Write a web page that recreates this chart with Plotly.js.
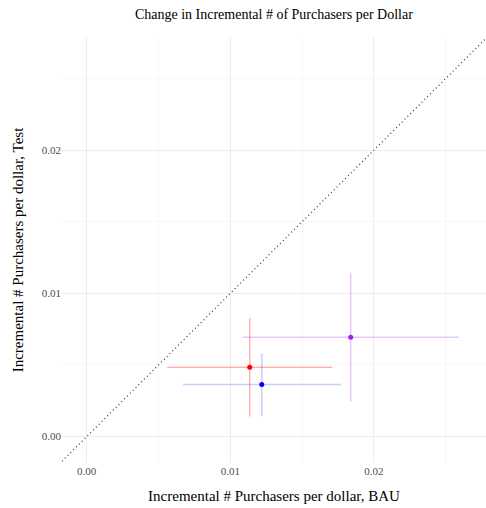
<!DOCTYPE html>
<html>
<head>
<meta charset="utf-8">
<script src="https://cdn.plot.ly/plotly-3.0.1.min.js"></script>
<style>html,body{margin:0;padding:0;background:#fff;}#chart{width:486px;height:508px;}</style>
</head>
<body>
<div id="chart"></div>
<script>
const groups = ["A", "B", "C"];
const bau = [0.01135, 0.01219, 0.01838];
const bauLow = [0.00561, 0.00671, 0.01088];
const bauHigh = [0.01710, 0.01769, 0.02591];
const test = [0.00484, 0.00363, 0.00694];
const testLow = [0.00140, 0.00142, 0.00244];
const testHigh = [0.00826, 0.00582, 0.01144];
const refLine = [-0.01, 0.04];

const colors = ["rgb(255,0,0)", "rgb(0,0,255)", "rgb(160,32,240)"];
const barColors = ["rgba(255,0,0,0.3)", "rgba(0,0,255,0.2)", "rgba(160,32,240,0.25)"];

const traces = [{
  x: refLine, y: refLine, mode: "lines", type: "scatter",
  line: {color: "#222222", width: 1.1, dash: "1px,3px"}, hoverinfo: "skip", showlegend: false
}];
groups.forEach((g, i) => {
  traces.push({
    name: g, type: "scatter", mode: "markers",
    x: [bau[i]], y: [test[i]],
    marker: {color: colors[i], size: 5},
    error_x: {type: "data", symmetric: false, array: [bauHigh[i] - bau[i]], arrayminus: [bau[i] - bauLow[i]], color: barColors[i], thickness: 1.5, width: 0},
    error_y: {type: "data", symmetric: false, array: [testHigh[i] - test[i]], arrayminus: [test[i] - testLow[i]], color: barColors[i], thickness: 1.5, width: 0},
    showlegend: false
  });
});

const font = "Liberation Serif, Times New Roman, serif";
const layout = {
  width: 486, height: 508,
  margin: {l: 62, r: 0, t: 37, b: 45},
  paper_bgcolor: "#fff", plot_bgcolor: "#fff",
  font: {family: font, color: "#000"},
  title: {text: "Change in Incremental # of Purchasers per Dollar", font: {family: font, size: 14, color: "#000"}, x: 0.5635, xanchor: "center", y: 0.972, yanchor: "middle"},
  xaxis: {
    range: [-0.00172, 0.0278], dtick: 0.01, tick0: 0, tickformat: ".2f",
    showgrid: true, gridcolor: "#EDEDED", gridwidth: 1, zeroline: false, showline: false, ticks: "",
    minor: {dtick: 0.005, showgrid: true, gridcolor: "#F7F7F7", gridwidth: 1},
    tickfont: {family: font, size: 11, color: "#4D4D4D"},
    title: {text: "Incremental # Purchasers per dollar, BAU", font: {family: font, size: 15, color: "#000"}, standoff: 14}
  },
  yaxis: {
    range: [-0.00184, 0.02789], dtick: 0.01, tick0: 0, tickformat: ".2f",
    showgrid: true, gridcolor: "#EDEDED", gridwidth: 1, zeroline: false, showline: false, ticks: "",
    minor: {dtick: 0.005, showgrid: true, gridcolor: "#F7F7F7", gridwidth: 1},
    tickfont: {family: font, size: 11, color: "#4D4D4D"},
    title: {text: "Incremental # Purchasers per dollar, Test", font: {family: font, size: 15, color: "#000"}, standoff: 14}
  },
  showlegend: false
};
Plotly.newPlot("chart", traces, layout, {displayModeBar: false, staticPlot: true});
</script>
</body>
</html>
